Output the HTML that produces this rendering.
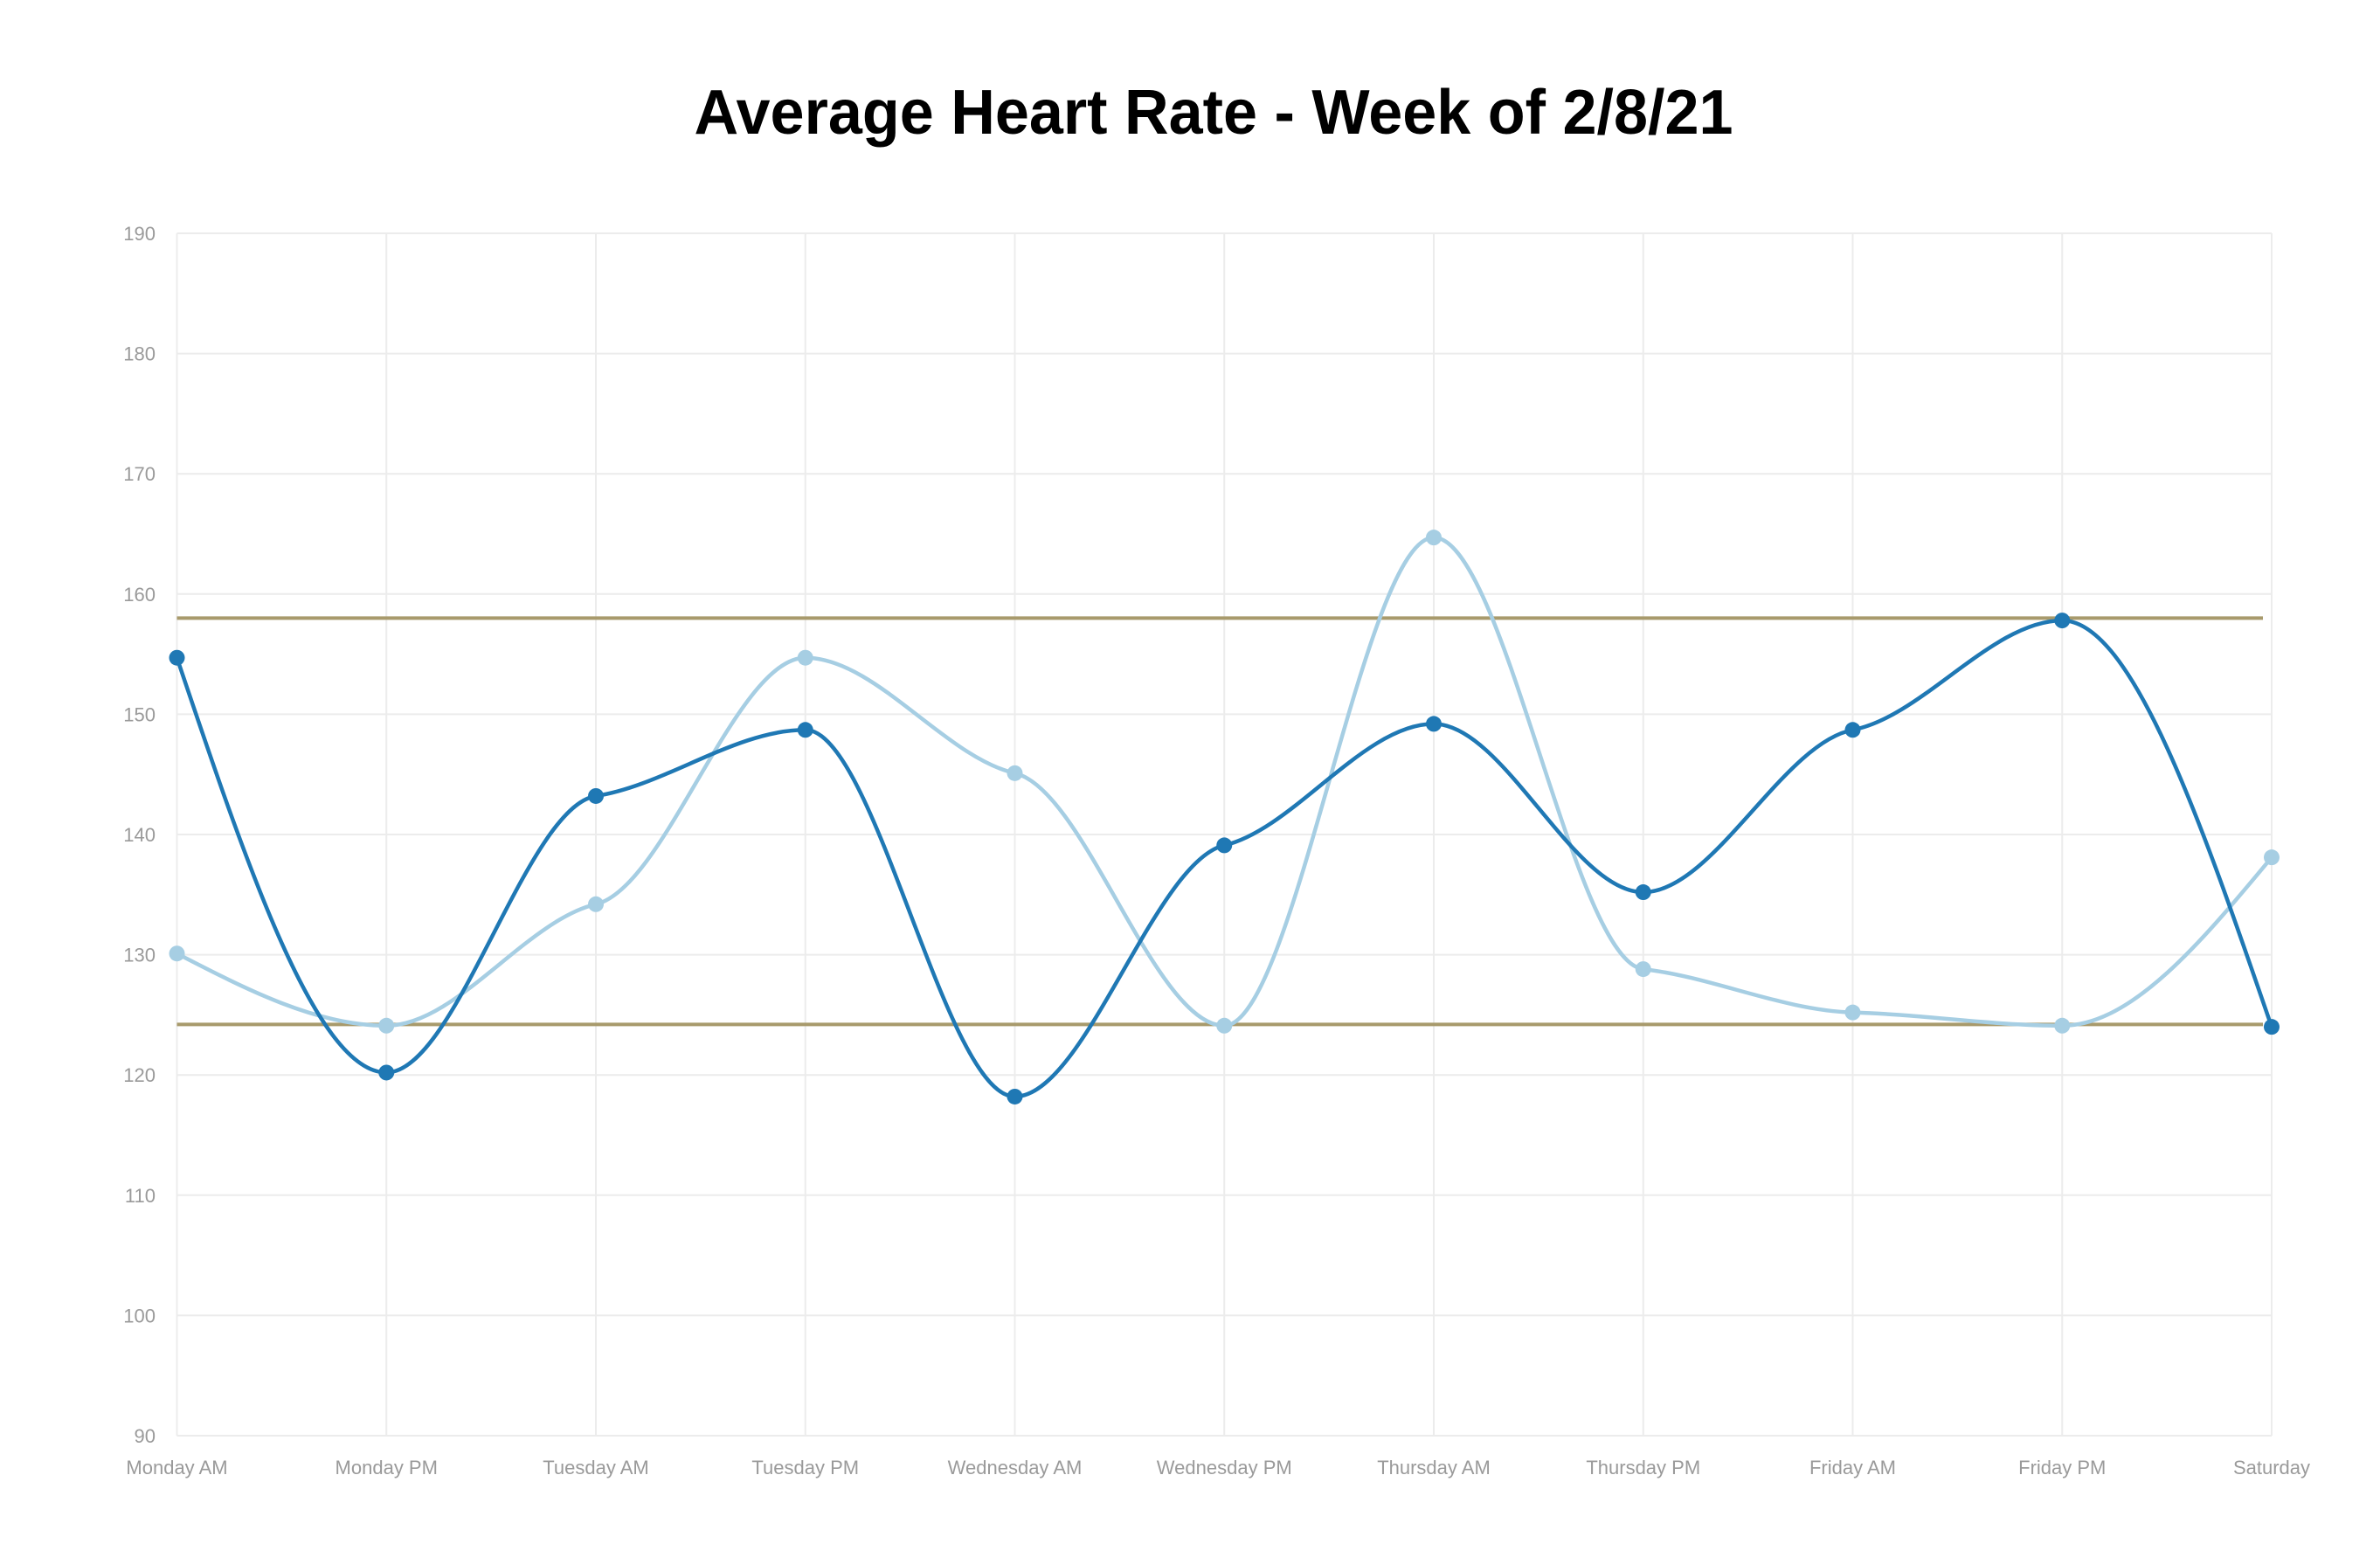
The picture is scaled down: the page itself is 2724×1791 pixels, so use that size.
<!DOCTYPE html>
<html><head><meta charset="utf-8"><style>
html,body{margin:0;padding:0;background:#fff;}
svg{display:block;font-family:"Liberation Sans",sans-serif;}
</style></head><body>
<svg id="chart" width="2724" height="1791" viewBox="0 0 2724 1791">
<text x="1389" y="153" text-anchor="middle" font-size="72" font-weight="bold" fill="#000" textLength="1189" lengthAdjust="spacingAndGlyphs">Average Heart Rate - Week of 2/8/21</text>
<g id="grid"></g>
<g id="axes"></g>
<g id="thresholds"></g>
<g id="series"></g>
</svg>
<script>
const categories = ["Monday AM","Monday PM","Tuesday AM","Tuesday PM","Wednesday AM","Wednesday PM","Thursday AM","Thursday PM","Friday AM","Friday PM","Saturday"];
const seriesDark = [154.7,120.2,143.2,148.7,118.2,139.1,149.2,135.2,148.7,157.8,124.0];
const seriesLight = [130.1,124.1,134.2,154.7,145.1,124.1,164.7,128.8,125.2,124.1,138.1];
const thresholds = [158,124.2];
const yTicks = [90,100,110,120,130,140,150,160,170,180,190];

const NS="http://www.w3.org/2000/svg";
const L=202.5,R=2600,T=267,B=1643,yMin=90,yMax=190;
function xs(i){return L+(R-L)*i/(categories.length-1);}
function ys(v){return B-(v-yMin)/(yMax-yMin)*(B-T);}
function mk(tag,attrs,parent){const e=document.createElementNS(NS,tag);for(const k in attrs)e.setAttribute(k,attrs[k]);parent.appendChild(e);return e;}
const grid=document.getElementById('grid'),axes=document.getElementById('axes');
yTicks.forEach(t=>{
  const g=mk('line',{x1:L,x2:R,y1:ys(t),y2:ys(t),stroke:'#ececec','stroke-width':2},grid);
  
  
  const lb=mk('text',{x:178,y:ys(t)+8,'text-anchor':'end','font-size':22,fill:'#9a9a9a'},axes);
  lb.textContent=t;
  
  
});
categories.forEach((c,i)=>{
  const g=mk('line',{x1:xs(i),x2:xs(i),y1:T,y2:B,stroke:'#ececec','stroke-width':2},grid);
  
  
  const lb=mk('text',{x:xs(i),y:1687,'text-anchor':'middle','font-size':22,fill:'#9a9a9a'},axes);
  lb.textContent=c;
  
  
});
const th=document.getElementById('thresholds');
thresholds.forEach(v=>{
  const l=mk('line',{x1:L,x2:2590,y1:ys(v),y2:ys(v),stroke:'#a89a6c','stroke-width':4},th);
  
  
});
function smoothPath(px,py){
  const n=px.length,d=[],m=[];
  for(let i=0;i<n-1;i++)d.push((py[i+1]-py[i])/(px[i+1]-px[i]));
  for(let i=0;i<n;i++){
    if(i===0||i===n-1){m.push(0);continue;}
    const a=d[i-1],b=d[i];
    if(a*b<=0)m.push(0); else m.push(0.6*a*b/(a+b));
  }
  m[0]=(3*d[0]-m[1])/2; m[n-1]=(3*d[n-2]-m[n-2])/2;
  let s='M'+px[0]+','+py[0];
  for(let i=0;i<n-1;i++){const h=(px[i+1]-px[i])/3;s+=' C'+(px[i]+h)+','+(py[i]+m[i]*h)+' '+(px[i+1]-h)+','+(py[i+1]-m[i+1]*h)+' '+px[i+1]+','+py[i+1];}
  return s;
}
const sg=document.getElementById('series');
[[seriesLight,'#a6cee3','light'],[seriesDark,'#1f78b4','dark']].forEach(([vals,col,nm])=>{
  const px=vals.map((v,i)=>xs(i)),py=vals.map(v=>ys(v));
  const p=mk('path',{d:smoothPath(px,py),fill:'none',stroke:col,'stroke-width':4.5},sg);
  
  
  vals.forEach((v,i)=>{
    const c=mk('circle',{cx:xs(i),cy:ys(v),r:9,fill:col},sg);
    
    
  });
});
</script>
</body></html>
